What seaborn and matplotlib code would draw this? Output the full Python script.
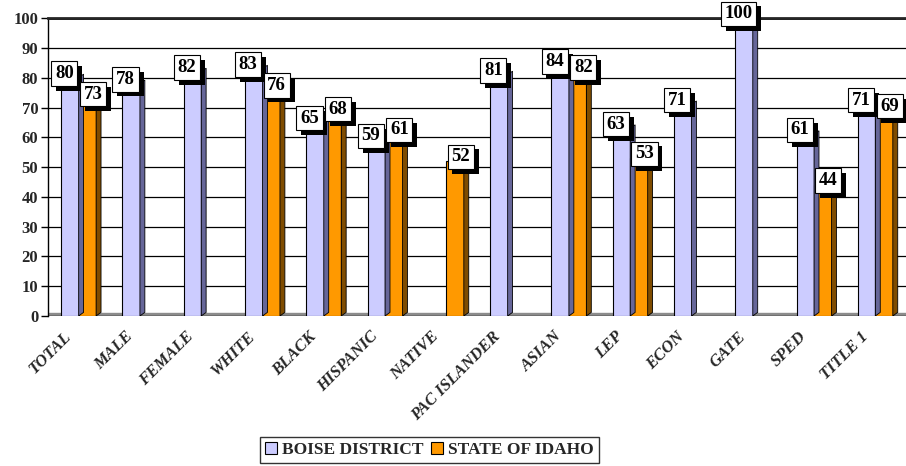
import numpy as np
import pandas as pd
import seaborn as sns
import matplotlib.pyplot as plt
import matplotlib.patheffects as pe
from matplotlib.patches import Polygon

# data
categories = ['TOTAL', 'MALE', 'FEMALE', 'WHITE', 'BLACK', 'HISPANIC', 'NATIVE',
              'PAC ISLANDER', 'ASIAN', 'LEP', 'ECON', 'GATE', 'SPED', 'TITLE 1']
boise = [80, 78, 82, 83, 65, 59, np.nan, 81, 84, 63, 71, 100, 61, 71]
idaho = [73, np.nan, np.nan, 76, 68, 61, 52, np.nan, 82, 53, np.nan, np.nan, 44, 69]
series = ['BOISE DISTRICT', 'STATE OF IDAHO']
yticks = list(range(0, 101, 10))

front = {'BOISE DISTRICT': '#CCCCFF', 'STATE OF IDAHO': '#FF9900'}
side = {'BOISE DISTRICT': '#666699', 'STATE OF IDAHO': '#7F4C00'}

df = pd.DataFrame({
    'category': categories * 2,
    'series': [series[0]] * len(categories) + [series[1]] * len(categories),
    'value': boise + idaho,
})

sns.set_style('white')
plt.rcParams['font.family'] = ['Liberation Serif', 'DejaVu Serif']

fig = plt.figure(figsize=(9.06, 4.66), dpi=100)
ax = fig.add_axes([0.053, 0.322, 0.947, 0.639])

sns.barplot(data=df, x='category', y='value', hue='series', order=categories,
            hue_order=series, palette=front, saturation=1, width=0.57,
            edgecolor='black', linewidth=0.8, ax=ax, legend=False, zorder=3)

ax.set_xlim(-0.5, len(categories) - 0.5)
ax.set_ylim(0, 100)

# horizontal grid on the back wall
for v in yticks[1:]:
    ax.axhline(v, color='black', lw=2 if v == 100 else 0.9, zorder=1)
# floor strip
ax.axhspan(0, 0.9, color='#8C8C8C', zorder=2)
ax.axhline(0, color='black', lw=1, zorder=2)

# pseudo 3D side faces and value boxes with a drop shadow
dx, dy = 0.08, 1.2
shadow = [pe.SimplePatchShadow(offset=(3.5, -3.5), shadow_rgbFace='black', alpha=1),
          pe.Normal()]
label_shift = [-4, 4]  # points, boise boxes lean left, idaho boxes lean right
for i, cont in enumerate(ax.containers):
    s = series[i]
    for bar in cont:
        v = bar.get_height()
        if not np.isfinite(v) or v == 0:
            continue
        x1 = bar.get_x() + bar.get_width()
        ax.add_patch(Polygon([(x1, 0), (x1 + dx, dy), (x1 + dx, v + dy), (x1, v)],
                             closed=True, facecolor=side[s], edgecolor='black',
                             lw=0.6, zorder=3))
        cx = bar.get_x() + bar.get_width() / 2
        t = ax.annotate('%d' % round(v), (cx, v), xytext=(label_shift[i], -3),
                        textcoords='offset points', ha='center', va='bottom',
                        fontsize=13.5, fontweight='bold', color='black', zorder=6 + i,
                        bbox=dict(boxstyle='square,pad=0.2', fc='white', ec='black', lw=0.8))
        t.get_bbox_patch().set_path_effects(shadow)

ax.set_xlabel('')
ax.set_ylabel('')
ax.set_yticks(yticks)
ax.set_yticklabels([str(v) for v in yticks], fontsize=12, fontweight='bold')
# category labels sit a little left of the group centre
ax.set_xticks(np.arange(len(categories)) - 0.25)
ax.set_xticklabels(categories, rotation=45, ha='right', rotation_mode='anchor',
                   fontsize=12, fontweight='bold', style='italic')
ax.set_xticks(np.arange(-0.5, len(categories)), minor=True)
ax.tick_params(axis='x', which='major', length=0, pad=9)
ax.tick_params(axis='x', which='minor', length=5, color='black', width=1, direction='out')
ax.tick_params(axis='y', length=5, color='black', width=1, direction='out', left=True, pad=2)

for name in ['right', 'bottom']:
    ax.spines[name].set_visible(False)
ax.spines['top'].set_linewidth(2)
ax.spines['left'].set_color('black')
ax.spines['left'].set_linewidth(1)

handles = [plt.Rectangle((0, 0), 1, 1, fc=front[s], ec='black', lw=0.8) for s in series]
leg = fig.legend(handles, series, loc='center', bbox_to_anchor=(0.474, 0.034), ncol=2,
                 frameon=True, fancybox=False, edgecolor='black', handlelength=0.7,
                 handleheight=0.7, handletextpad=0.3, columnspacing=0.4,
                 borderpad=0.3, prop={'weight': 'bold', 'size': 12.5})
leg.get_frame().set_linewidth(1)

fig.savefig('out.png', dpi=100)
